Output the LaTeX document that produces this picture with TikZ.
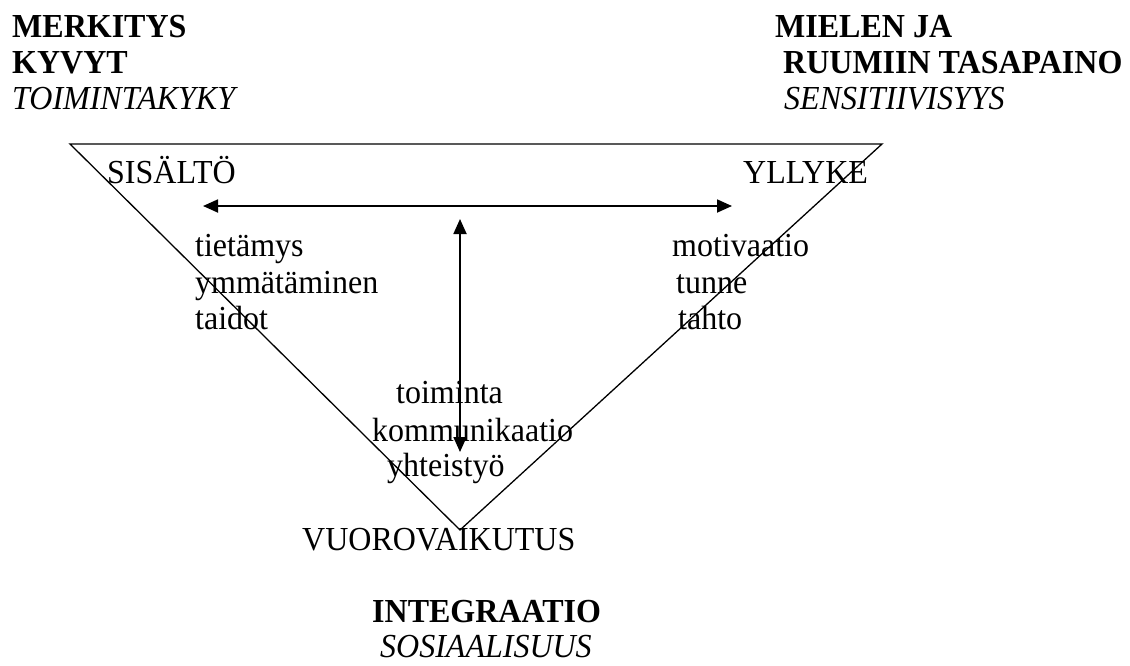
\documentclass[tikz,border=0pt]{standalone}
\usepackage{fontspec}
\setmainfont{Liberation Serif}
\usetikzlibrary{arrows.meta}
% slightly tall lettering
\newcommand\stretched[1]{\scalebox{1}[1.05]{#1}}
\tikzset{
  lbl/.style={anchor=base west, inner sep=0pt, font=\fontsize{32}{36}\selectfont},
  head/.style={lbl, font=\fontsize{32}{36}\selectfont\bfseries},
  sub/.style={lbl, font=\fontsize{32}{36}\selectfont\itshape},
  edge/.style={line width=1.3pt},
  link/.style={line width=1.8pt, {Triangle[length=15pt,width=13pt]}-{Triangle[length=15pt,width=13pt]}}
}
\begin{document}
\begin{tikzpicture}[x=1pt,y=-1pt]
\useasboundingbox (0,0) rectangle (1130,665);

% corner titles
\node[head] (merkitys) at (12,37) {\stretched{MERKITYS}};
\node[head] (kyvyt) at (12,73) {\stretched{KYVYT}};
\node[sub] (toimintakyky) at (12,109) {\stretched{TOIMINTAKYKY}};
\node[head] (mielen) at (775,37) {\stretched{MIELEN JA}};
\node[head] (ruumiin) at (783,73) {\stretched{RUUMIIN TASAPAINO}};
\node[sub] (sensit) at (784,109) {\stretched{SENSITIIVISYYS}};
\node[head] (integraatio) at (372,622) {\stretched{INTEGRAATIO}};
\node[sub] (sosiaalisuus) at (380,657) {\stretched{SOSIAALISUUS}};

% inverted triangle
\coordinate (tl) at (70,144);
\coordinate (tr) at (882,144);
\coordinate (bot) at (460,530);
\draw[edge, line join=miter] (tl) -- (tr) -- (bot) -- cycle;

% vertex labels
\node[lbl] (sisalto) at (107,183) {\stretched{SISÄLTÖ}};
\node[lbl] (yllyke) at (743,183) {\stretched{YLLYKE}};
\node[lbl] (vuoro) at (302,550) {\stretched{VUOROVAIKUTUS}};

% side lists
\node[lbl] (tietamys) at (195,256) {\stretched{tietämys}};
\node[lbl] (ymmat) at (195,293) {\stretched{ymmätäminen}};
\node[lbl] (taidot) at (195,329) {\stretched{taidot}};
\node[lbl] (motiv) at (672,256) {\stretched{motivaatio}};
\node[lbl] (tunne) at (676,293) {\stretched{tunne}};
\node[lbl] (tahto) at (678,329) {\stretched{tahto}};
\node[lbl] (toiminta) at (396,403) {\stretched{toiminta}};
\node[lbl] (kommun) at (372,441) {\stretched{kommunikaatio}};
\node[lbl] (yhteis) at (387,476) {\stretched{yhteistyö}};

% arrows between the poles
\coordinate (hl) at (203,206);
\coordinate (hr) at (732,206);
\coordinate (vt) at (460,219);
\coordinate (vb) at (460,452);
\draw[link] (hl) -- (hr);
\draw[link] (vt) -- (vb);
\end{tikzpicture}
\end{document}
